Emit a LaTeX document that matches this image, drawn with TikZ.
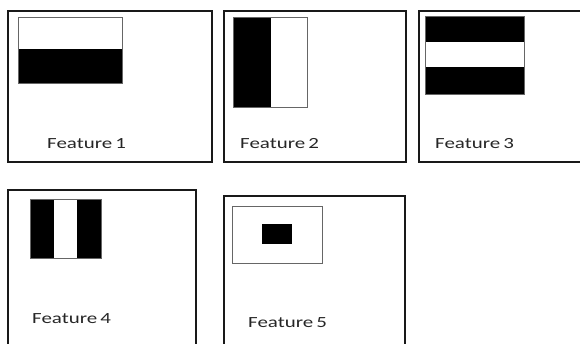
\documentclass[tikz,border=0pt]{standalone}
\usepackage{fontspec}
\setmainfont{Carlito}
\usetikzlibrary{positioning}

\begin{document}
\begin{tikzpicture}[
  x=1pt,y=-1pt,
  frame/.style={draw=black!90, line width=1.9pt, inner sep=0pt, anchor=north west},
  inbox/.style={draw=black!60, line width=0.8pt},
  lbl/.style={font=\fontsize{15.5}{18}\selectfont, color=black!85, anchor=base west, inner sep=0pt},
]
\useasboundingbox (0,0) rectangle (580,343);
\clip (0,0) rectangle (580,343);
% outer frames
\node[frame, minimum width=204, minimum height=151] (f1) at (7,10) {};
\node[frame, minimum width=182, minimum height=151] (f2) at (223,10) {};
\node[frame, minimum width=180, minimum height=151] (f3) at (418,10) {};
\node[frame, minimum width=188, minimum height=180] (f4) at (7,189) {};
\node[frame, minimum width=181, minimum height=180] (f5) at (223,195) {};
% feature 1: white over black
\fill[black] (18,49) rectangle (122,83);
\draw[inbox] (18,17) rectangle (122,83);
% feature 2: black | white
\fill[black] (233,17) rectangle (271,107);
\draw[inbox] (233,17) rectangle (307,107);
% feature 3: black / white / black
\fill[black] (425,16) rectangle (524,42);
\fill[black] (425,67) rectangle (524,94);
\draw[inbox] (425,16) rectangle (524,94);
% feature 4: black | white | black
\fill[black] (30,199) rectangle (54,258);
\fill[black] (77,199) rectangle (101,258);
\draw[inbox] (30,199) rectangle (101,258);
% feature 5: centre block
\draw[inbox] (232,206) rectangle (322,263);
\fill[black] (262,224) rectangle (292,244);
% labels
\node[lbl] (t1) at (47,148) {\scalebox{1.35}[1]{Feature\hspace{0.15em}1}};
\node[lbl] (t2) at (240,148) {\scalebox{1.35}[1]{Feature\hspace{0.15em}2}};
\node[lbl] (t3) at (435,148) {\scalebox{1.35}[1]{Feature\hspace{0.15em}3}};
\node[lbl] (t4) at (32,323) {\scalebox{1.35}[1]{Feature\hspace{0.15em}4}};
\node[lbl] (t5) at (248,327) {\scalebox{1.35}[1]{Feature\hspace{0.15em}5}};
\end{tikzpicture}
\end{document}
